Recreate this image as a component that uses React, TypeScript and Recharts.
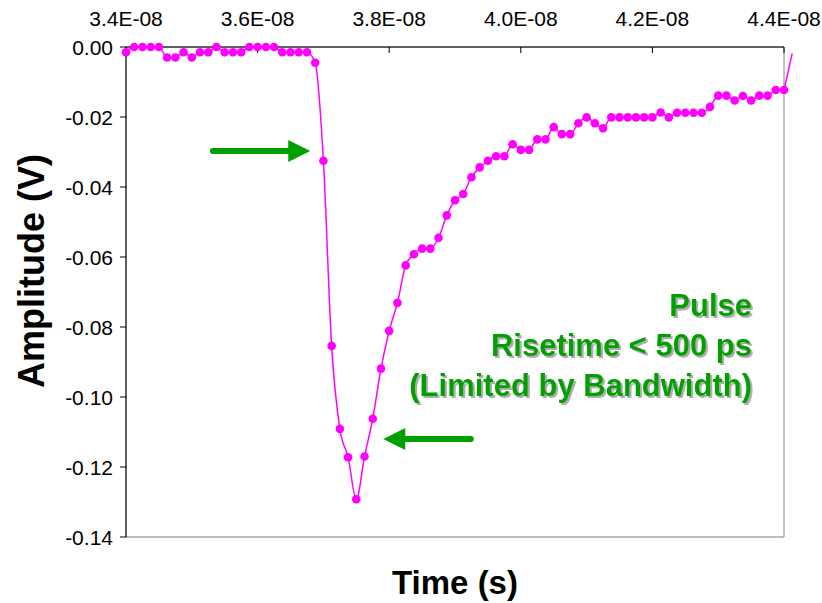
import React from 'react';
import { LineChart, Line, XAxis, YAxis, ReferenceLine, ReferenceArea } from 'recharts';

// sample times in ns (x axis shows seconds as E-08)
const TIME_NS = [
  34.0, 34.125, 34.25, 34.375, 34.5, 34.625, 34.75, 34.875,
  35.0, 35.125, 35.25, 35.375, 35.5, 35.625, 35.75, 35.875,
  36.0, 36.125, 36.25, 36.375, 36.5, 36.625, 36.75, 36.875,
  37.0, 37.125, 37.25, 37.375, 37.5, 37.625, 37.75, 37.875,
  38.0, 38.125, 38.25, 38.375, 38.5, 38.625, 38.75, 38.875,
  39.0, 39.125, 39.25, 39.375, 39.5, 39.625, 39.75, 39.875,
  40.0, 40.125, 40.25, 40.375, 40.5, 40.625, 40.75, 40.875,
  41.0, 41.125, 41.25, 41.375, 41.5, 41.625, 41.75, 41.875,
  42.0, 42.125, 42.25, 42.375, 42.5, 42.625, 42.75, 42.875,
  43.0, 43.125, 43.25, 43.375, 43.5, 43.625, 43.75, 43.875,
  44.0,
];

// amplitude in volts
const AMPLITUDE = [
  -0.0015, 0, 0, 0, 0, -0.003, -0.003, -0.0015,
  -0.003, -0.0015, -0.0015, 0, -0.0015, -0.0015, -0.0015, 0,
  0, 0, 0, -0.0015, -0.0015, -0.0015, -0.0015, -0.0045,
  -0.0325, -0.0854, -0.1091, -0.1172, -0.1292, -0.117, -0.1062, -0.0919,
  -0.0811, -0.0731, -0.0624, -0.0592, -0.0576, -0.0576, -0.0545, -0.0481,
  -0.0438, -0.042, -0.0372, -0.0344, -0.0325, -0.0312, -0.0312, -0.0278,
  -0.0294, -0.0294, -0.0264, -0.0264, -0.0229, -0.0249, -0.0249, -0.0218,
  -0.0201, -0.0218, -0.0232, -0.0201, -0.0201, -0.0201, -0.0201, -0.0201,
  -0.0201, -0.0187, -0.0201, -0.0188, -0.0188, -0.0188, -0.0188, -0.0171,
  -0.0139, -0.0139, -0.0153, -0.014, -0.0153, -0.0139, -0.0139, -0.0123,
  -0.0123,
];

// trace keeps going past the right edge of the plot
const TAIL_TIME = [44.0, 44.125];
const TAIL_AMP = [-0.0123, -0.0018];

const X_TICKS = [34, 36, 38, 40, 42, 44];
const Y_TICKS = [-0.14, -0.12, -0.1, -0.08, -0.06, -0.04, -0.02, 0];

const NOTE_LINES = ['Pulse', 'Risetime < 500 ps', '(Limited by Bandwidth)'];

// arrows, in data units: [x from, x to, y]
const ARROW_RISE = [35.32, 36.8, -0.0297];
const ARROW_FALL = [39.24, 37.91, -0.112];

const FONT = '"Liberation Sans", Arial, sans-serif';
const MAGENTA = '#FF00FF';
const GREEN = '#00A000';

const data = TIME_NS.map((t, i) => ({ t, v: AMPLITUDE[i] }));

function Arrow(props: any) {
  const { x1, y1, x2 } = props;
  const dir = x2 > x1 ? 1 : -1;
  const head = 22;
  const baseX = x2 - dir * head;
  return (
    <g>
      <line x1={x1} y1={y1} x2={baseX} y2={y1} stroke={GREEN} strokeWidth={6} strokeLinecap="round" />
      <polygon points={`${x2},${y1} ${baseX},${y1 - 11} ${baseX},${y1 + 11}`} fill={GREEN} />
    </g>
  );
}

function TopTick(props: any) {
  const { x, y, payload } = props;
  return (
    <text x={x} y={y} textAnchor="middle" fontFamily={FONT} fontSize={21} fill="#000">
      {`${(payload.value / 10).toFixed(1)}E-08`}
    </text>
  );
}

function LeftTick(props: any) {
  const { x, y, payload } = props;
  return (
    <text x={x} y={y} dy="0.36em" textAnchor="end" fontFamily={FONT} fontSize={21} fill="#000">
      {payload.value.toFixed(2)}
    </text>
  );
}

export default function App() {
  return (
    <div style={{ position: 'absolute', left: 0, top: 0, width: 822, height: 603, background: '#fff' }}>
      <LineChart width={822} height={603} data={data} margin={{ top: 7, right: 38, bottom: 66, left: 66 }}>
        <ReferenceArea x1={34} x2={44} y1={-0.14} y2={0} fill="none" stroke="#808080" strokeWidth={1} />
        <XAxis
          dataKey="t"
          type="number"
          orientation="top"
          domain={[34, 44]}
          ticks={X_TICKS}
          height={40}
          tick={<TopTick />}
          axisLine={{ stroke: '#000' }}
          tickLine={{ stroke: '#000' }}
          tickSize={-6}
          tickMargin={27}
          interval={0}
        />
        <YAxis
          type="number"
          domain={[-0.14, 0]}
          ticks={Y_TICKS}
          width={60}
          tick={<LeftTick />}
          axisLine={{ stroke: '#000' }}
          tickLine={{ stroke: '#000' }}
          tickSize={6}
          tickMargin={7}
          interval={0}
        />
        <ReferenceLine
          segment={[{ x: TAIL_TIME[0], y: TAIL_AMP[0] }, { x: TAIL_TIME[1], y: TAIL_AMP[1] }]}
          ifOverflow="visible"
          stroke={MAGENTA}
          strokeWidth={1.5}
        />
        <Line
          type="monotone"
          dataKey="v"
          stroke={MAGENTA}
          strokeWidth={1.5}
          dot={{ r: 4.3, fill: MAGENTA, stroke: 'none' }}
          activeDot={false}
          isAnimationActive={false}
        />
        <ReferenceLine
          segment={[{ x: ARROW_RISE[0], y: ARROW_RISE[2] }, { x: ARROW_RISE[1], y: ARROW_RISE[2] }]}
          ifOverflow="visible"
          shape={(p: any) => <Arrow {...p} />}
        />
        <ReferenceLine
          segment={[{ x: ARROW_FALL[0], y: ARROW_FALL[2] }, { x: ARROW_FALL[1], y: ARROW_FALL[2] }]}
          ifOverflow="visible"
          shape={(p: any) => <Arrow {...p} />}
        />
      </LineChart>
      <svg width={822} height={603} style={{ position: 'absolute', left: 0, top: 0, pointerEvents: 'none' }}>
        <defs>
          <filter id="noteShadow" x="-5%" y="-20%" width="115%" height="150%">
            <feDropShadow dx={2} dy={2} stdDeviation={0.6} floodColor="#9a9a9a" floodOpacity={0.8} />
          </filter>
        </defs>
        <g fontFamily={FONT} fontWeight="bold" fontSize={31} textAnchor="end" fill={GREEN} filter="url(#noteShadow)">
          {NOTE_LINES.map((s, i) => (
            <text key={s} x={752} y={316 + i * 40}>{s}</text>
          ))}
        </g>
        <text
          x={0}
          y={0}
          transform="translate(44 271) rotate(-90)"
          textAnchor="middle"
          fontFamily={FONT}
          fontWeight="bold"
          fontSize={36}
          fill="#000"
        >
          Amplitude (V)
        </text>
        <text x={455} y={594} textAnchor="middle" fontFamily={FONT} fontWeight="bold" fontSize={33} fill="#000">
          Time (s)
        </text>
      </svg>
    </div>
  );
}
